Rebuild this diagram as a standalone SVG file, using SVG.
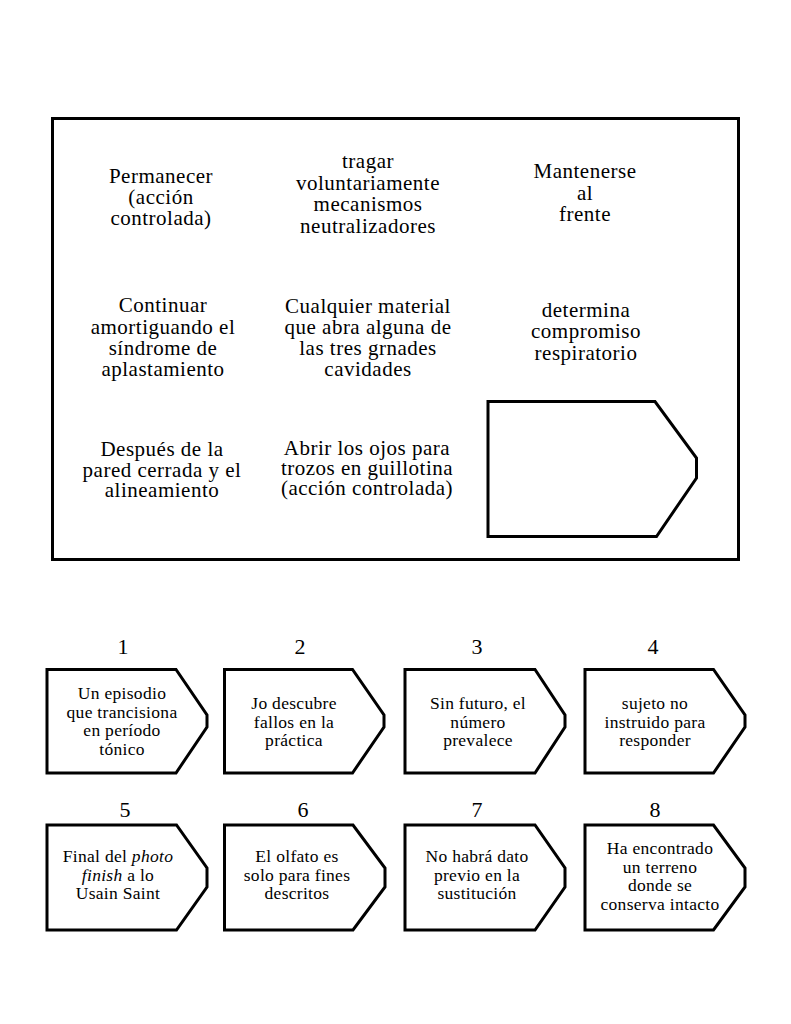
<svg xmlns="http://www.w3.org/2000/svg" width="791" height="1024" viewBox="0 0 791 1024">
<style>
.frame{fill:none;stroke:#000;stroke-width:3}
.shape{fill:#fff;stroke:#000;stroke-width:3;stroke-linejoin:miter}
text{font-family:"Liberation Serif","Times New Roman",serif;fill:#000;text-anchor:middle}
.big{font-size:21px;letter-spacing:0.5px}
.sm{font-size:17.5px;letter-spacing:0.3px}
.num{font-size:22px}
.it{font-style:italic}
</style>
<rect width="791" height="1024" fill="#fff"/>
<g id="panel">
<rect class="frame" x="52.5" y="118.5" width="686" height="441"/>
</g>
<g id="t1" class="big">
<text x="161" y="183">Permanecer</text>
<text x="161" y="204">(acción</text>
<text x="161" y="225">controlada)</text>
</g>
<g id="t2" class="big">
<text x="368" y="168">tragar</text>
<text x="368" y="190">voluntariamente</text>
<text x="368" y="211">mecanismos</text>
<text x="368" y="233">neutralizadores</text>
</g>
<g id="t3" class="big">
<text x="585" y="178">Mantenerse</text>
<text x="585" y="200">al</text>
<text x="585" y="221">frente</text>
</g>
<g id="t4" class="big">
<text x="163" y="312">Continuar</text>
<text x="163" y="334">amortiguando el</text>
<text x="163" y="355">síndrome de</text>
<text x="163" y="376">aplastamiento</text>
</g>
<g id="t5" class="big">
<text x="368" y="313">Cualquier material</text>
<text x="368" y="334">que abra alguna de</text>
<text x="368" y="355">las tres grnades</text>
<text x="368" y="376">cavidades</text>
</g>
<g id="t6" class="big">
<text x="586" y="317">determina</text>
<text x="586" y="338">compromiso</text>
<text x="586" y="360">respiratorio</text>
</g>
<g id="t7" class="big">
<text x="162" y="456">Después de la</text>
<text x="162" y="477">pared cerrada y el</text>
<text x="162" y="497">alineamiento</text>
</g>
<g id="t8" class="big">
<text x="367" y="455">Abrir los ojos para</text>
<text x="367" y="475">trozos en guillotina</text>
<text x="367" y="495">(acción controlada)</text>
</g>
<g id="empty-tag">
<path class="shape" d="M488,401.5 H655 L696.5,458 V478 L656.5,536.5 H488 Z"/>
</g>
<g id="connectors"></g>
<g id="step1">
<text class="num" x="123" y="654">1</text>
<path class="shape" d="M47,669.5 H176 L207,715 V727 L176,773 H47 Z"/>
<text class="sm" x="122" y="699">Un episodio</text>
<text class="sm" x="122" y="717.5">que trancisiona</text>
<text class="sm" x="122" y="736">en período</text>
<text class="sm" x="122" y="754.5">tónico</text>
</g>
<g id="step2">
<text class="num" x="300" y="654">2</text>
<path class="shape" d="M224.5,669.5 H352.5 L384,715 V727 L352.5,773 H224.5 Z"/>
<text class="sm" x="294" y="709">Jo descubre</text>
<text class="sm" x="294" y="727.5">fallos en la</text>
<text class="sm" x="294" y="746">práctica</text>
</g>
<g id="step3">
<text class="num" x="477" y="654">3</text>
<path class="shape" d="M405,669.5 H535 L565,715 V727 L535,773 H405 Z"/>
<text class="sm" x="478" y="709">Sin futuro, el</text>
<text class="sm" x="478" y="727.5">número</text>
<text class="sm" x="478" y="746">prevalece</text>
</g>
<g id="step4">
<text class="num" x="653" y="654">4</text>
<path class="shape" d="M585,669.5 H713.5 L745,715 V727 L713.5,773 H585 Z"/>
<text class="sm" x="655" y="709">sujeto no</text>
<text class="sm" x="655" y="727.5">instruido para</text>
<text class="sm" x="655" y="746">responder</text>
</g>
<g id="step5">
<text class="num" x="125" y="817">5</text>
<path class="shape" d="M47,825 H176.5 L207,868 V887 L176.5,930 H47 Z"/>
<text class="sm" x="118" y="862">Final del <tspan class="it">photo</tspan></text>
<text class="sm" x="118" y="880.5"><tspan class="it">finish</tspan> a lo</text>
<text class="sm" x="118" y="899">Usain Saint</text>
</g>
<g id="step6">
<text class="num" x="303" y="817">6</text>
<path class="shape" d="M224.5,825 H353 L385,868 V887 L353,930 H224.5 Z"/>
<text class="sm" x="297" y="862">El olfato es</text>
<text class="sm" x="297" y="880.5">solo para fines</text>
<text class="sm" x="297" y="899">descritos</text>
</g>
<g id="step7">
<text class="num" x="477" y="817">7</text>
<path class="shape" d="M405,825 H535 L565,868 V887 L535,930 H405 Z"/>
<text class="sm" x="477" y="862">No habrá dato</text>
<text class="sm" x="477" y="880.5">previo en la</text>
<text class="sm" x="477" y="899">sustitución</text>
</g>
<g id="step8">
<text class="num" x="655" y="817">8</text>
<path class="shape" d="M585,825 H713.5 L745,868 V887 L713.5,930 H585 Z"/>
<text class="sm" x="660" y="854">Ha encontrado</text>
<text class="sm" x="660" y="872.5">un terreno</text>
<text class="sm" x="660" y="891">donde se</text>
<text class="sm" x="660" y="909.5">conserva intacto</text>
</g>
</svg>
